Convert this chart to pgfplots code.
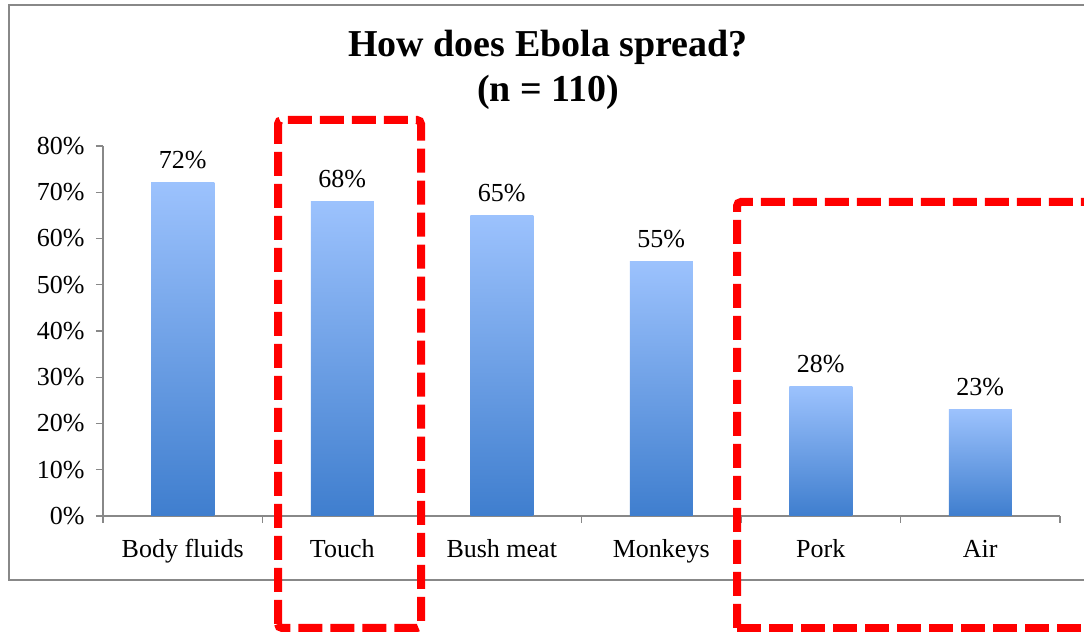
\documentclass[border=0pt]{standalone}
\usepackage{fontspec}
\setmainfont{Liberation Serif}
\usepackage{pgfplots}
\pgfplotsset{compat=1.18}

\definecolor{axisgray}{HTML}{888888}
\definecolor{bartop}{HTML}{9CC2FD}
\definecolor{barbottom}{HTML}{3F7ECE}
\definecolor{markred}{HTML}{FF0000}

\pgfplotsset{
  gradbar/.style={draw=none, shade, top color=bartop, bottom color=barbottom},
}

\begin{document}
\begin{tikzpicture}[x=1pt,y=1pt]
  \path[use as bounding box] (0,0) rectangle (1084,634);

  % chart frame
  \draw[axisgray, line width=2pt] (9,54) rectangle (1100,629);

  % title
  \node[align=center, font=\fontsize{38}{45}\selectfont\bfseries] at (548,564)
    {How does Ebola spread?\\(n = 110)};

  \begin{axis}[
    at={(103pt,118pt)}, anchor=south west,
    scale only axis,
    width=957pt, height=370pt,
    xmin=-0.5, xmax=5.5,
    ymin=0, ymax=80,
    axis x line*=bottom,
    axis y line*=left,
    axis line style={axisgray, line width=1.3pt, -},
    xtick={0,...,5},
    xticklabels={Body fluids, Touch, Bush meat, Monkeys, Pork, Air},
    minor xtick={-0.5,0.5,...,5.5},
    ytick={0,10,...,80},
    yticklabels={0\%,10\%,20\%,30\%,40\%,50\%,60\%,70\%,80\%},
    tick align=outside,
    major x tick style={draw=none},
    minor x tick style={axisgray, line width=1.3pt},
    y tick style={axisgray, line width=1.3pt},
    minor tick length=7pt,
    major tick length=7pt,
    tick label style={font=\fontsize{26}{30}\selectfont},
    xticklabel style={anchor=base, yshift=-35pt},
    yticklabel style={anchor=east, xshift=-8pt},
    ybar, bar width=63pt, bar shift=0pt,
    /pgf/number format/assume math mode=true,
    nodes near coords={\pgfmathprintnumber{\pgfplotspointmeta}\%},
    nodes near coords style={font=\fontsize{26}{30}\selectfont, anchor=base, yshift=14pt},
    clip=false,
  ]
    % one plot per bar so each bar carries its own gradient
    \addplot[gradbar] coordinates {(0,72)};
    \addplot[gradbar] coordinates {(1,68)};
    \addplot[gradbar] coordinates {(2,65)};
    \addplot[gradbar] coordinates {(3,55)};
    \addplot[gradbar] coordinates {(4,28)};
    \addplot[gradbar] coordinates {(5,23)};
  \end{axis}

  % highlight boxes
  \begin{scope}[markred, line width=8pt, dash pattern=on 24pt off 8pt, rounded corners=4pt]
    \draw (278,6) rectangle (421,514);
    \draw (737,6) -- (737,432) -- (1110,432);
    \draw (737,6) -- (1110,6);
  \end{scope}
\end{tikzpicture}
\end{document}
